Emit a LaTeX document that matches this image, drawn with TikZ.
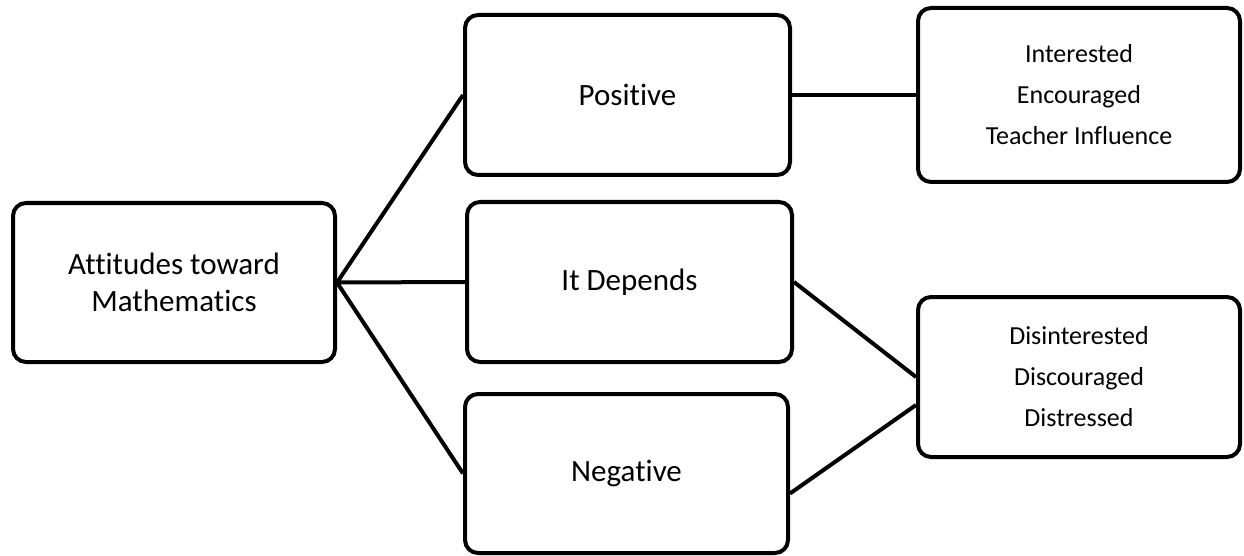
\documentclass[tikz,border=0pt]{standalone}
\usepackage{fontspec}
\setmainfont[Ligatures={NoCommon}]{Carlito}
\usetikzlibrary{calc}
\begin{document}
\begin{tikzpicture}[x=1pt,y=-1pt,
  box/.style={draw=black, line width=4pt, rounded corners=13pt, fill=white,
    inner sep=0pt, align=center, font=\fontsize{31}{37}\selectfont},
  smallbox/.style={box, font=\fontsize{26}{41}\selectfont},
  conn/.style={draw=black, line width=4pt}]
\useasboundingbox (0,0) rectangle (1244,556);
\node[box, minimum width=322pt, minimum height=159pt] (att) at (174,282.5) {Attitudes toward\\Mathematics};
\node[box, minimum width=325pt, minimum height=160pt] (pos) at (627.5,95) {Positive};
\node[box, minimum width=325pt, minimum height=160pt] (dep) at (629.5,282) {It Depends};
\node[box, minimum width=323pt, minimum height=159pt] (neg) at (626.5,473.5) {Negative};
\node[smallbox, minimum width=322pt, minimum height=174pt] (tr) at (1079,95) {Interested\\Encouraged\\Teacher Influence};
\node[smallbox, minimum width=322pt, minimum height=160pt] (dr) at (1079,377) {Disinterested\\Discouraged\\Distressed};
\draw[conn] (att.east) -- (pos.west);
\draw[conn] (att.east) -- (dep.west);
\draw[conn] (att.east) -- (neg.west);
\draw[conn] (pos.east) -- (tr.west);
\draw[conn] (dep.east) -- (dr.west);
\draw[conn] ($(neg.east)+(0,20)$) -- ($(dr.west)+(0,28)$);
\end{tikzpicture}
\end{document}
